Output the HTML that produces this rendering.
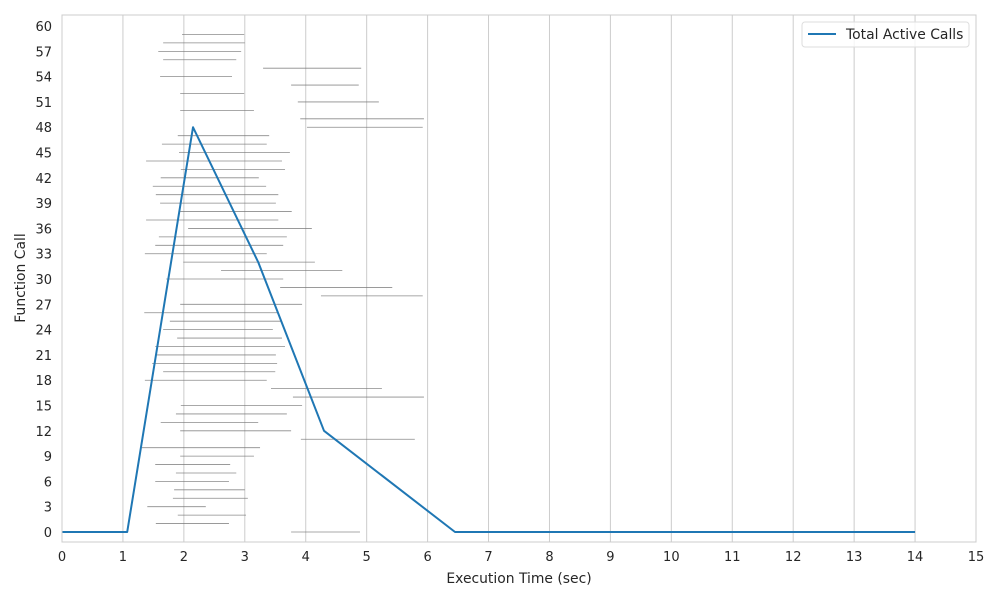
<!DOCTYPE html>
<html><head><meta charset="utf-8"><style>
body{margin:0;background:#fff;}
svg{display:block;font-family:"DejaVu Sans","Liberation Sans",sans-serif;}
</style></head><body>
<svg id="chart" width="1000" height="600" xmlns="http://www.w3.org/2000/svg">
<g id="grid"></g>
<g id="segs"></g>
<g id="line"></g>
<rect x="62" y="15" width="914" height="527" fill="none" stroke="#ccc" stroke-width="1"/>
<g id="xt"></g>
<g id="yt"></g>
<text x="519" y="583" font-size="13.9" text-anchor="middle" fill="#262626">Execution Time (sec)</text>
<text x="25" y="278" font-size="13.9" text-anchor="middle" fill="#262626" transform="rotate(-90 25 278)">Function Call</text>
<g>
<rect x="802" y="22" width="167" height="25" rx="3" fill="#fff" fill-opacity="0.8" stroke="#ddd"/>
<line x1="808" y1="34" x2="836" y2="34" stroke="#1f77b4" stroke-width="2"/>
<text x="846" y="39" font-size="13.9" fill="#262626">Total Active Calls</text>
</g>
</svg>
<script>
const callStarts=[3.76,1.54,1.90,1.40,1.82,1.84,1.53,1.87,1.53,1.94,1.31,3.92,1.94,1.62,1.87,1.95,3.79,3.43,1.36,1.66,1.48,1.56,1.53,1.89,1.66,1.77,1.35,1.94,4.25,3.58,1.71,2.61,1.99,1.36,1.53,1.59,2.07,1.38,1.94,1.61,1.54,1.49,1.62,1.95,1.38,1.92,1.64,1.90,4.02,3.91,1.94,3.87,1.94,3.76,1.61,3.30,1.66,1.58,1.66,1.97];
const callEnds=[4.89,2.74,3.02,2.36,3.05,3.00,2.74,2.86,2.76,3.15,3.25,5.79,3.76,3.22,3.69,3.94,5.94,5.25,3.36,3.50,3.53,3.51,3.66,3.61,3.46,3.61,3.55,3.94,5.92,5.42,3.63,4.60,4.15,3.36,3.63,3.69,4.10,3.55,3.77,3.51,3.55,3.35,3.23,3.66,3.61,3.74,3.36,3.40,5.92,5.94,3.15,5.20,2.99,4.87,2.79,4.91,2.86,2.94,3.00,2.99];
const lineX=[0,1.07,2.15,3.22,4.30,6.45,14];
const lineY=[0,0,48,32,12,0,0];
const xTicks=[0,1,2,3,4,5,6,7,8,9,10,11,12,13,14,15];
const yTicks=[0,3,6,9,12,15,18,21,24,27,30,33,36,39,42,45,48,51,54,57,60];
const NS="http://www.w3.org/2000/svg";
const X0=62,X1=976,Y0=542,Y1=15,xmin=0,xmax=15,ymin=-1.186,ymax=61.31;
const sx=v=>X0+(v-xmin)/(xmax-xmin)*(X1-X0);
const sy=v=>Y0-(v-ymin)/(ymax-ymin)*(Y0-Y1);
function mk(tag,attrs,parent){const e=document.createElementNS(NS,tag);for(const k in attrs)e.setAttribute(k,attrs[k]);parent.appendChild(e);return e;}
const grid=document.getElementById('grid'),xt=document.getElementById('xt'),yt=document.getElementById('yt');
xTicks.forEach(t=>{
  const g=mk('line',{x1:sx(t),x2:sx(t),y1:Y1,y2:Y0,stroke:'#ccc','stroke-width':1},grid);
  
  
  const tx=mk('text',{x:sx(t),y:Y0+19,'font-size':13,'text-anchor':'middle',fill:'#262626'},xt);
  tx.textContent=t;
  
  
});
yTicks.forEach(t=>{
  const tx=mk('text',{x:52,y:sy(t)+5,'font-size':13,'text-anchor':'end',fill:'#262626'},yt);
  tx.textContent=t;
  
  
});
const segs=document.getElementById('segs');
callStarts.forEach((s,i)=>{
  const l=mk('line',{x1:sx(s),x2:sx(callEnds[i]),y1:sy(i),y2:sy(i),stroke:'#777','stroke-width':0.8,'stroke-opacity':0.85},segs);
  
  
});
const pts=lineX.map((x,i)=>sx(x)+','+sy(lineY[i])).join(' ');
const pl=mk('polyline',{points:pts,fill:'none',stroke:'#1f77b4','stroke-width':2,'stroke-linejoin':'round'},document.getElementById('line'));


</script>
</body></html>
